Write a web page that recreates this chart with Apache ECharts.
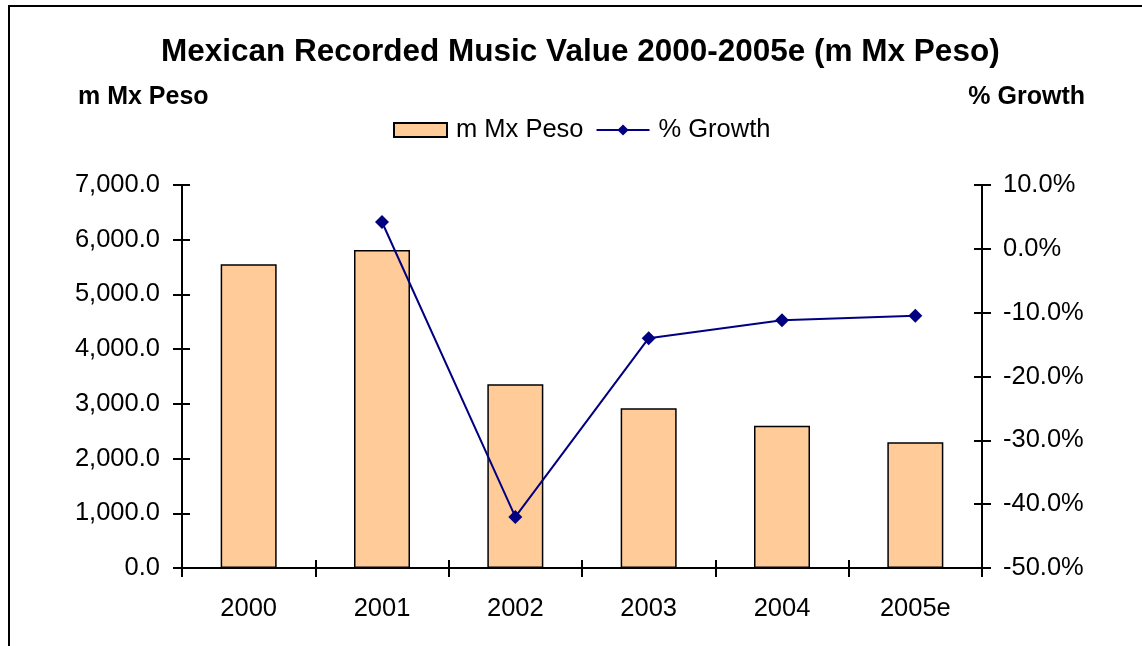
<!DOCTYPE html>
<html>
<head>
<meta charset="utf-8">
<script src="https://cdn.jsdelivr.net/npm/echarts@6/dist/echarts.min.js"></script>
<style>
html,body{margin:0;padding:0;background:#fff;}
#c{width:1142px;height:646px;}
</style>
</head>
<body>
<div id="c"></div>
<script>
const categories = ['2000', '2001', '2002', '2003', '2004', '2005e'];
const valueMxPeso = [5550, 5810, 3360, 2920, 2600, 2300];
const growthPct = [null, 4.2, -42.0, -14.0, -11.2, -10.5];
const leftTicks = { min: 0, max: 7000, interval: 1000 };
const rightTicks = { min: -50, max: 10, interval: 10 };

const FONT = '"Liberation Sans", Arial, sans-serif';
const FS = 25.5;
const chart = echarts.init(document.getElementById('c'), null, { renderer: 'canvas' });

const leftFmt = v => v.toLocaleString('en-US', { minimumFractionDigits: 1, maximumFractionDigits: 1 });
const rightFmt = v => v.toFixed(1) + '%';

const grid = { left: 182, right: 160, top: 185, bottom: 78 };
const tickStyle = { color: '#000', width: 2 };

chart.setOption({
  animation: false,
  backgroundColor: '#ffffff',
  textStyle: { fontFamily: FONT },
  title: {
    text: 'Mexican Recorded Music Value 2000-2005e (m Mx Peso)',
    left: 161, top: 36, padding: 0,
    textStyle: { fontFamily: FONT, fontSize: 31.5, fontWeight: 'bold', color: '#000' }
  },
  graphic: [
    { type: 'rect', shape: { x: 9, y: 6, width: 1300, height: 800 }, style: { fill: 'none', stroke: '#000', lineWidth: 2 }, z: 100 },
    { type: 'text', left: 78, top: 85, style: { text: 'm Mx Peso', fill: '#000', font: 'bold 25px ' + FONT } },
    { type: 'text', right: 57, top: 85, style: { text: '% Growth', fill: '#000', font: 'bold 25px ' + FONT } }
  ],
  legend: {
    top: 117, left: 393, padding: 0,
    itemWidth: 53, itemHeight: 14, itemGap: 12,
    textStyle: { fontFamily: FONT, fontSize: FS, color: '#000', padding: [0, 0, 0, 4] },
    data: [
      { name: 'm Mx Peso', icon: 'rect' },
      { name: '% Growth' }
    ]
  },
  grid: grid,
  xAxis: [{
    type: 'category', data: categories,
    axisLine: { onZero: false, lineStyle: { color: '#000', width: 2 } },
    axisTick: { show: true, length: 9, alignWithLabel: false, lineStyle: tickStyle },
    axisLabel: { color: '#000', fontSize: FS, fontFamily: FONT, margin: 28 },
    splitLine: { show: false }
  }, {
    type: 'category', data: categories, position: 'bottom',
    axisLine: { show: false, onZero: false },
    axisTick: { show: true, inside: true, length: 8, lineStyle: tickStyle },
    axisLabel: { show: false }, splitLine: { show: false }
  }],
  yAxis: [{
    type: 'value', position: 'left', min: leftTicks.min, max: leftTicks.max, interval: leftTicks.interval,
    axisLine: { show: true, onZero: false, lineStyle: { color: '#000', width: 2 } },
    axisTick: { show: false },
    axisLabel: { color: '#000', fontSize: FS, fontFamily: FONT, margin: 22, formatter: leftFmt },
    splitLine: { show: false }
  }, {
    type: 'value', position: 'right', min: rightTicks.min, max: rightTicks.max, interval: rightTicks.interval,
    axisLine: { show: true, onZero: false, lineStyle: { color: '#000', width: 2 } },
    axisTick: { show: false },
    axisLabel: { color: '#000', fontSize: FS, fontFamily: FONT, margin: 21, formatter: rightFmt },
    splitLine: { show: false }
  }, {
    type: 'value', position: 'left', offset: -8, min: leftTicks.min, max: leftTicks.max, interval: leftTicks.interval,
    axisLine: { show: false, onZero: false },
    axisTick: { show: true, length: 17, lineStyle: tickStyle },
    axisLabel: { show: false }, splitLine: { show: false }
  }, {
    type: 'value', position: 'right', offset: -8, min: rightTicks.min, max: rightTicks.max, interval: rightTicks.interval,
    axisLine: { show: false, onZero: false },
    axisTick: { show: true, length: 17, lineStyle: tickStyle },
    axisLabel: { show: false }, splitLine: { show: false }
  }],
  series: [{
    name: 'm Mx Peso', type: 'bar', xAxisIndex: 0, yAxisIndex: 0,
    data: valueMxPeso, barWidth: 56,
    itemStyle: { color: '#FFCC99', borderColor: '#000', borderWidth: 1.5 }
  }, {
    name: '% Growth', type: 'line', xAxisIndex: 0, yAxisIndex: 1,
    data: growthPct, connectNulls: false,
    symbol: 'diamond', symbolSize: 14,
    lineStyle: { color: '#000080', width: 2 },
    itemStyle: { color: '#000080' }
  }]
});
</script>
</body>
</html>
